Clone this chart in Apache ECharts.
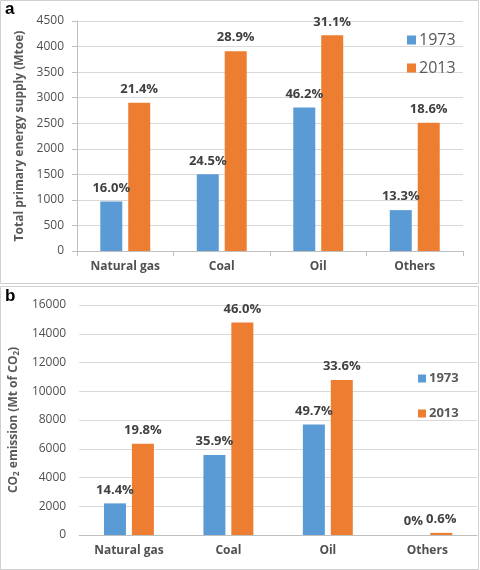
<!DOCTYPE html>
<html><head><meta charset="utf-8">
<script src="https://cdn.jsdelivr.net/npm/echarts@6/dist/echarts.min.js"></script>
<style>html,body{margin:0;padding:0;background:#fff}#c{width:480px;height:570px}</style>
</head><body><div id="c"></div>
<script>
const categories = ['Natural gas', 'Coal', 'Oil', 'Others'];
const years = ['1973', '2013'];
const energy1973 = [970, 1500, 2810, 800];
const energy2013 = [2900, 3910, 4220, 2510];
const energyPct1973 = ['16.0%', '24.5%', '46.2%', '13.3%'];
const energyPct2013 = ['21.4%', '28.9%', '31.1%', '18.6%'];
const co21973 = [2200, 5560, 7690, 0];
const co22013 = [6350, 14780, 10790, 150];
const co2Pct1973 = ['14.4%', '35.9%', '49.7%', '0%'];
const co2Pct2013 = ['19.8%', '46.0%', '33.6%', '0.6%'];

const BLUE = '#5B9BD5', ORANGE = '#ED7D31', TXT = '#595959';
const FONT = '"Open Sans", sans-serif';

function lbl(arr) {
  return { show: true, position: 'top', distance: 7, color: '#404040', fontFamily: FONT,
    fontWeight: 'bold', fontSize: 13, formatter: p => arr[p.dataIndex] };
}
function xAx(gi, ticks) {
  return { type: 'category', gridIndex: gi, data: categories,
    axisLine: { lineStyle: { color: '#BFBFBF' } },
    axisTick: { show: ticks, length: 5, lineStyle: { color: '#BFBFBF' } },
    axisLabel: { color: '#505050', fontFamily: FONT, fontWeight: 'bold', fontSize: 12, margin: 10 } };
}
const plain = v => String(v);
const chart = echarts.init(document.getElementById('c'));
chart.setOption({
  animation: false,
  textStyle: { fontFamily: FONT },
  grid: [
    { left: 77, right: 17, top: 21, bottom: 319 },
    { left: 75, right: 3, top: 305, bottom: 35 }
  ],
  xAxis: [xAx(0, true), xAx(1, false)],
  yAxis: [
    { type: 'value', gridIndex: 0, min: 0, max: 4500, interval: 500,
      name: 'Total primary energy supply (Mtoe)', nameLocation: 'middle', nameGap: 45,
      nameTextStyle: { color: TXT, fontFamily: FONT, fontWeight: 'bold', fontSize: 12 },
      axisLine: { show: true, lineStyle: { color: '#BFBFBF' } },
      axisTick: { show: true, length: 5, lineStyle: { color: '#BFBFBF' } },
      axisLabel: { color: '#505050', fontFamily: FONT, fontSize: 12, margin: 13, formatter: plain },
      splitLine: { lineStyle: { color: '#D9D9D9' } } },
    { type: 'value', gridIndex: 1, min: 0, max: 16000, interval: 2000,
      name: 'CO{s|2} emission (Mt of CO{s|2})', nameLocation: 'middle', nameGap: 54,
      nameTextStyle: { color: TXT, fontFamily: FONT, fontWeight: 'bold', fontSize: 12,
        rich: { s: { fontSize: 8, color: TXT, fontFamily: FONT, fontWeight: 'bold', verticalAlign: 'bottom', padding: [6, 0, 0, 0] } } },
      axisLine: { show: false }, axisTick: { show: false },
      axisLabel: { color: '#505050', fontFamily: FONT, fontSize: 12, margin: 13, formatter: plain },
      splitLine: { lineStyle: { color: '#D9D9D9' } } }
  ],
  legend: [
    { data: years, orient: 'vertical', left: 402, top: 27, itemWidth: 9, itemHeight: 9, itemGap: 12,
      icon: 'rect', textStyle: { color: TXT, fontFamily: FONT, fontSize: 16, padding: [0, 0, 0, -2] } },
    { data: years, orient: 'vertical', left: 413, top: 367, itemWidth: 8, itemHeight: 8, itemGap: 22,
      icon: 'rect', textStyle: { color: TXT, fontFamily: FONT, fontWeight: 'bold', fontSize: 13, padding: [0, 0, 0, -2] } }
  ],
  series: [
    { name: '1973', type: 'bar', xAxisIndex: 0, yAxisIndex: 0, data: energy1973, barWidth: 22, barGap: '27%',
      itemStyle: { color: BLUE }, label: lbl(energyPct1973) },
    { name: '2013', type: 'bar', xAxisIndex: 0, yAxisIndex: 0, data: energy2013, barWidth: 22,
      itemStyle: { color: ORANGE }, label: lbl(energyPct2013) },
    { name: '1973', type: 'bar', xAxisIndex: 1, yAxisIndex: 1, data: co21973, barWidth: 22, barGap: '27%',
      itemStyle: { color: BLUE }, label: lbl(co2Pct1973) },
    { name: '2013', type: 'bar', xAxisIndex: 1, yAxisIndex: 1, data: co22013, barWidth: 22,
      itemStyle: { color: ORANGE }, label: lbl(co2Pct2013) }
  ],
  graphic: [
    { type: 'rect', shape: { x: 0.5, y: 0.5, width: 478, height: 283 }, style: { fill: 'none', stroke: '#D0D0D0', lineWidth: 1 }, silent: true },
    { type: 'rect', shape: { x: 0.5, y: 286.5, width: 478, height: 283 }, style: { fill: 'none', stroke: '#D0D0D0', lineWidth: 1 }, silent: true },
    { type: 'text', left: 5, top: 1, style: { text: 'a', fill: '#000', font: 'bold 17px "Liberation Sans", Arial, sans-serif' } },
    { type: 'text', left: 5, top: 288, style: { text: 'b', fill: '#000', font: 'bold 17px "Liberation Sans", Arial, sans-serif' } }
  ]
});
</script></body></html>
